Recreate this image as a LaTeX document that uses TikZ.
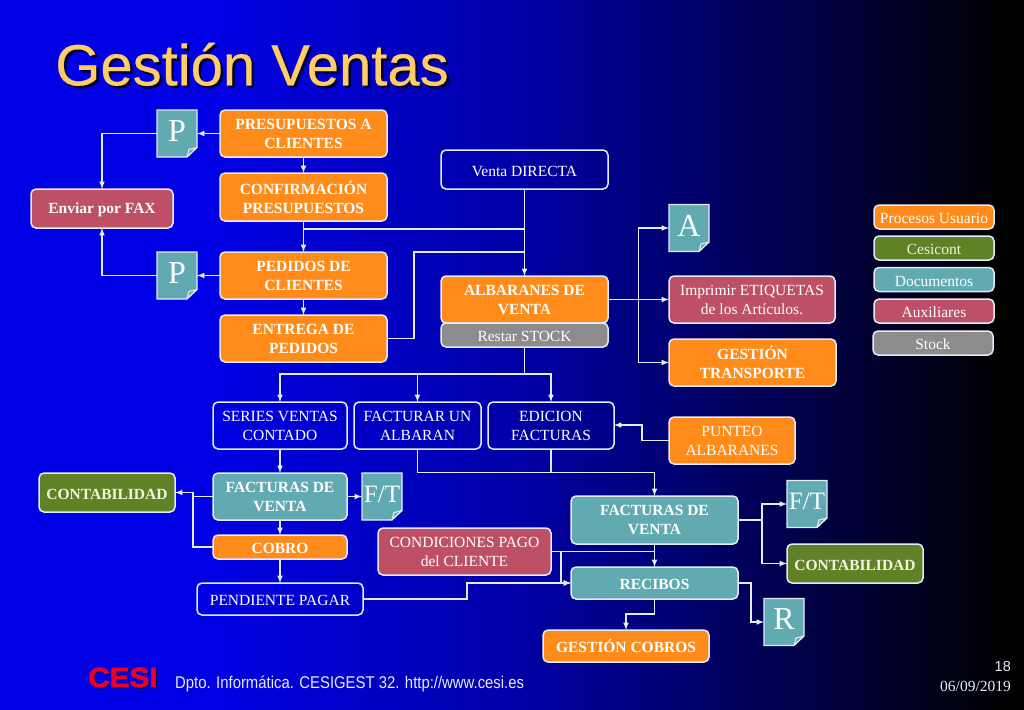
\documentclass[tikz,border=0pt]{standalone}
\usepackage{fontspec}
\usepackage{tikz}
\usetikzlibrary{positioning}
\setmainfont{Liberation Serif}
\newfontfamily\arialfont{Liberation Sans}
\newfontfamily\titlefont[FakeBold=0.4]{Liberation Sans}
\newfontfamily\logofont[FakeBold=2]{Liberation Sans Bold}
\definecolor{procfill}{RGB}{255,140,26}
\definecolor{contfill}{RGB}{94,130,37}
\definecolor{docfill}{RGB}{97,170,178}
\definecolor{auxfill}{RGB}{189,80,102}
\definecolor{stockfill}{RGB}{140,140,140}
\definecolor{edgeline}{RGB}{230,235,248}
\definecolor{titlefill}{RGB}{255,204,102}
\definecolor{logofill}{RGB}{235,0,45}
\definecolor{creamtext}{RGB}{245,245,222}
\newcommand{\withshadow}[3]{\rlap{\kern#1\raisebox{-#1}{\color{#2}#3}}#3}
\pgfdeclarehorizontalshading{slidefade}{100bp}{
    rgb(0bp)=(0,0,.9);
    rgb(35bp)=(0,0,.9);
    rgb(50bp)=(0,0,.66);
    rgb(65bp)=(0,0,.26);
    rgb(74bp)=(0,0,0);
    rgb(100bp)=(0,0,0)}

\begin{document}
\begin{tikzpicture}[
        x = 1pt,
        y = -1pt,
        >= latex,
        boxnode/.style 2 args = {
                draw = edgeline,
                line width = 1.5pt,
                rounded corners = 5pt,
                minimum width = #1,
                minimum height = #2,
                inner sep = 0pt,
                outer sep = 0pt,
                align = center,
                text = white,
                execute at begin node = {\rule{0pt}{13.5pt}},
                font = \fontsize{15.5}{19}\selectfont
            },
        proc/.style = {fill = procfill, font = \fontsize{15.5}{19}\selectfont\bfseries},
        cont/.style = {fill = contfill, text = creamtext, font = \fontsize{15.5}{19}\selectfont\bfseries},
        doc/.style = {fill = docfill},
        aux/.style = {fill = auxfill},
        stockbox/.style = {fill = stockfill},
        link/.style = {line width = 1.5pt, draw = edgeline},
        sheet/.style = {
                minimum width = 40pt,
                minimum height = 47pt,
                inner sep = 0pt,
                outer sep = 0pt,
                text = white,
                text depth = 5pt
            }
    ]
    \useasboundingbox (0,0) rectangle (1024,709);
    \shade[shading = slidefade] (0,0) rectangle (1024,709);

    \node[text = titlefill, font = \titlefont\fontsize{58}{58}\selectfont] (title) at (252,65.5) {\withshadow{2.5pt}{black!80!blue}{Gestión Ventas}};

    \foreach \n/\t/\x/\y/\s in {p1/P/177/133.5/32, p2/P/177/275.5/32, a/A/689/228/32, ft1/F\slash T/382/496.5/25, ft2/F\slash T/807/504/25, r/R/784/622/32} {
        \draw[link, fill = docfill, line width = 1.3pt] (\x-20,\y-23.5) -- (\x+20,\y-23.5) -- (\x+20,\y+14) -- (\x+10,\y+23.5) -- (\x-20,\y+23.5) -- cycle;
        \draw[link, line width = 1.1pt] (\x+20,\y+14) -- (\x+12,\y+16) -- (\x+10,\y+23.5);
        \node[sheet, font = \fontsize{\s}{\s}\selectfont] (\n) at (\x,\y) {\t};
    }

    \node[boxnode={167}{47}, proc] (pres) at (303.5,133.5) {PRESUPUESTOS A\\CLIENTES};
    \node[boxnode={167}{48}, proc, below=16pt of pres] (conf) {CONFIRMACIÓN\\PRESUPUESTOS};
    \node[boxnode={167}{47}, proc] (pedi) at (303.5,275.5) {PEDIDOS DE\\CLIENTES};
    \node[boxnode={167}{47}, proc, below=16pt of pedi] (entr) {ENTREGA DE\\PEDIDOS};
    \node[boxnode={142}{39}, aux, font=\fontsize{15.5}{19}\selectfont\bfseries] (fax) at (102,208.5) {Enviar por FAX};

    \node[boxnode={167}{39}] (vent) at (524.5,169.5) {Venta DIRECTA};
    \node[boxnode={167}{47}, proc] (alba) at (524.5,299.5) {ALBARANES DE\\VENTA};
    \node[boxnode={167}{24}, stockbox, below=0pt of alba] (rest) {Restar STOCK};
    \node[boxnode={166}{47}, aux] (etiq) at (752,299.5) {Imprimir ETIQUETAS\\de los Artículos.};
    \node[boxnode={167}{47}, proc] (tran) at (752.5,362.5) {GESTIÓN\\TRANSPORTE};

    \node[boxnode={120}{24}, fill=procfill] (lgproc) at (934,217) {Procesos Usuario};
    \node[boxnode={120}{24}, fill=contfill, text=creamtext] (lgcont) at (934,248) {Cesicont};
    \node[boxnode={120}{24}, doc] (lgdocs) at (934,279.5) {Documentos};
    \node[boxnode={120}{24}, aux] (lgauxi) at (934,311) {Auxiliares};
    \node[boxnode={120}{24}, stockbox] (lgstock) at (933,343) {Stock};

    \node[boxnode={134}{47}] (seri) at (280,425.5) {SERIES VENTAS\\CONTADO};
    \node[boxnode={127}{47}] (fact) at (417.5,425.5) {FACTURAR UN\\ALBARAN};
    \node[boxnode={126}{47}] (edic) at (551,425.5) {EDICION\\FACTURAS};
    \node[boxnode={126}{47}, fill=procfill] (punt) at (732,440.5) {PUNTEO\\ALBARANES};

    \node[boxnode={134}{47}, doc, font=\fontsize{15.5}{19}\selectfont\bfseries] (fvcon) at (280,496.5) {FACTURAS DE\\VENTA};
    \node[boxnode={136}{39}, cont] (cont1) at (107,492.5) {CONTABILIDAD};
    \node[boxnode={134}{24}, proc] (cobr) at (280,547) {COBRO};
    \node[boxnode={166}{32}] (pend) at (280,599) {PENDIENTE PAGAR};
    \node[boxnode={173}{47}, aux] (cond) at (464.5,551.5) {CONDICIONES PAGO\\del CLIENTE};

    \node[boxnode={167}{48}, doc, font=\fontsize{15.5}{19}\selectfont\bfseries] (fvalb) at (654.5,520) {FACTURAS DE\\VENTA};
    \node[boxnode={136}{39}, cont] (cont2) at (855,563.5) {CONTABILIDAD};
    \node[boxnode={167}{32}, doc, font=\fontsize{15.5}{19}\selectfont\bfseries] (reci) at (654.5,583) {RECIBOS};
    \node[boxnode={166}{32}, proc] (gest) at (626,646) {GESTIÓN COBROS};

    \node[text = logofill, font = \logofont\fontsize{28}{28}\selectfont, xscale = 1.06] (logo) at (123,678) {\withshadow{1pt}{blue!35!black}{CESI}};
    \node[text = edgeline, font = \arialfont\fontsize{17}{17}\selectfont, anchor = west, inner sep = 0pt, xscale = .875] (dept) at (175,683.5) {Dpto. Informática. CESIGEST 32. http://www.cesi.es};
    \node[text = edgeline, font = \arialfont\fontsize{14.5}{15}\selectfont, anchor = east, inner sep = 0pt] (page) at (1011,666) {18};
    \node[text = edgeline, font = \fontsize{15.5}{16}\selectfont, anchor = east, inner sep = 0pt] (date) at (1011,686) {06/09/2019};

    \coordinate (jconf) at (303.5,229);
    \coordinate (jentr) at (414,252);
    \coordinate (jalba) at (638.5,299.5);
    \coordinate (jrest) at (524.5,374);
    \coordinate (jpunt) at (642,425);
    \coordinate (jcont) at (193,492.5);
    \coordinate (jfact) at (417.5,472.5);
    \coordinate (jcond) at (561,551.5);
    \coordinate (jpend) at (467,583);
    \coordinate (jfval) at (762,520);
    \coordinate (jreci) at (751,622);
    \coordinate (jgest) at (654.5,614);

    \draw[->, link] (pres) -- (p1);
    \draw[->, link] (pedi) -- (p2);
    \draw[->, link] (p1.west) -| (fax.north);
    \draw[->, link] (p2.west) -| (fax.south);
    \draw[->, link] (pres) -- (conf);
    \draw[->, link] (conf) -- (pedi);
    \draw[->, link] (pedi) -- (entr);
    \draw[link] (jconf) -- (jconf -| vent.south);
    \draw[link] (entr.east) -| (jentr) -- (jentr -| vent.south);
    \draw[->, link] (vent) -- (alba);

    \draw[->, link] (alba.east) -- (etiq.west);
    \draw[->, link] (jalba) |- (a.west);
    \draw[->, link] (jalba) |- (tran.west);

    \draw[link] (rest.south) -- (jrest);
    \draw[->, link] (jrest) -| (seri.north);
    \draw[->, link] (jrest) -| (fact.north);
    \draw[->, link] (jrest) -| (edic.north);
    \draw[->, link] (punt.west) -| (jpunt) -- (jpunt -| edic.east);

    \draw[->, link] (seri) -- (fvcon);
    \draw[->, link] (fvcon) -- (ft1);
    \draw[->, link] (fvcon) -- (cobr);
    \draw[->, link] (cobr) -- (pend);
    \draw[link] (fvcon.west) -| (jcont);
    \draw[->, link] (cobr.west) -| (jcont) -- (cont1.east);

    \draw[->, link] (fact.south) |- (jfact) -| (fvalb.north);
    \draw[link] (edic.south) -- (edic.south |- jfact);
    \draw[->, link] (fvalb) -- (reci);
    \draw[link] (cond.east) -- (cond.east -| reci.north);
    \draw[->, link] (jcond) |- (reci.west);
    \draw[->, link] (pend.east) -| (jpend) -- (reci.west);

    \draw[link] (fvalb.east) -- (jfval);
    \draw[->, link] (jfval) |- (ft2.west);
    \draw[->, link] (jfval) |- (cont2.west);
    \draw[->, link] (reci.east) -| (jreci) -- (r.west);
    \draw[->, link] (reci.south) -- (jgest) -| (gest.north);
\end{tikzpicture}
\end{document}
